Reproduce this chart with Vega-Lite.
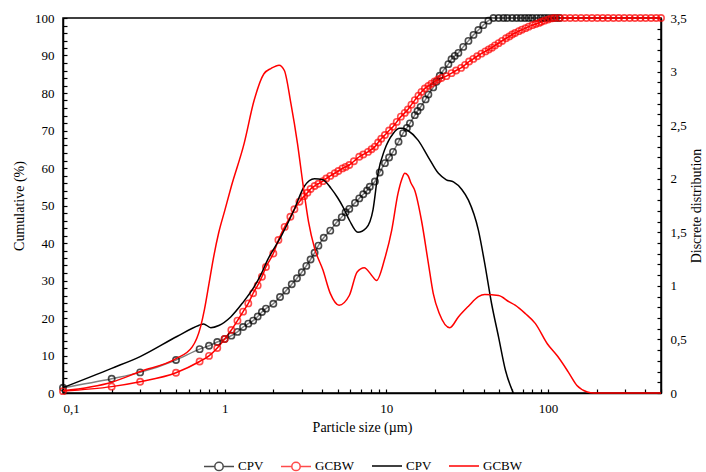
{
  "$schema": "https://vega.github.io/schema/vega-lite/v6.json",
  "width": 598,
  "height": 375,
  "autosize": {"type": "none"},
  "padding": {"left": 63, "top": 18, "right": 45, "bottom": 79},
  "background": "white",
  "config": {
    "font": "Liberation Serif",
    "view": {"stroke": "black", "strokeWidth": 1.5},
    "axis": {
      "labelFont": "Liberation Serif", "titleFont": "Liberation Serif",
      "labelFontSize": 13, "titleFontSize": 14, "titleFontWeight": "normal",
      "labelColor": "black", "titleColor": "black",
      "domainColor": "black", "domainWidth": 1.5,
      "tickColor": "black", "tickWidth": 1.2, "tickSize": -4,
      "grid": false, "labelOverlap": false, "labelPadding": 13
    },
    "legend": {
      "labelFont": "Liberation Serif", "labelFontSize": 13, "labelColor": "black",
      "orient": "none", "direction": "horizontal", "symbolStrokeWidth": 1.5,
      "labelOffset": 3, "columnPadding": 14, "padding": 0
    }
  },
  "datasets": {
    "cum": [
      {"series":"CPV","size":0.1,"value":1.4},{"series":"CPV","size":0.2,"value":3.8},{"series":"CPV","size":0.3,"value":5.5},{"series":"CPV","size":0.5,"value":8.8},{"series":"CPV","size":0.7,"value":11.7},{"series":"CPV","size":0.8,"value":12.6},{"series":"CPV","size":0.9,"value":13.6},{"series":"CPV","size":1,"value":14.4},{"series":"CPV","size":1.1,"value":15.3},{"series":"CPV","size":1.2,"value":16.3},{"series":"CPV","size":1.3,"value":17.6},{"series":"CPV","size":1.4,"value":18.5},{"series":"CPV","size":1.5,"value":19.3},{"series":"CPV","size":1.6,"value":20.4},{"series":"CPV","size":1.7,"value":21.6},{"series":"CPV","size":1.8,"value":22.5},{"series":"CPV","size":2,"value":23.8},{"series":"CPV","size":2.2,"value":25.6},{"series":"CPV","size":2.4,"value":27.3},{"series":"CPV","size":2.6,"value":29},{"series":"CPV","size":2.8,"value":30.6},{"series":"CPV","size":3,"value":32.2},{"series":"CPV","size":3.2,"value":33.9},{"series":"CPV","size":3.4,"value":35.6},{"series":"CPV","size":3.6,"value":37.4},{"series":"CPV","size":3.8,"value":39.3},{"series":"CPV","size":4.1,"value":41.4},{"series":"CPV","size":4.5,"value":43.3},{"series":"CPV","size":4.9,"value":45.4},{"series":"CPV","size":5.3,"value":46.9},{"series":"CPV","size":5.6,"value":48.2},{"series":"CPV","size":5.9,"value":49.1},{"series":"CPV","size":6.4,"value":50.7},{"series":"CPV","size":6.8,"value":51.9},{"series":"CPV","size":7.2,"value":53},{"series":"CPV","size":7.6,"value":54},{"series":"CPV","size":7.9,"value":55},{"series":"CPV","size":8.5,"value":56.4},{"series":"CPV","size":9.1,"value":58.8},{"series":"CPV","size":9.8,"value":61.3},{"series":"CPV","size":10.4,"value":62.8},{"series":"CPV","size":11,"value":64.3},{"series":"CPV","size":11.9,"value":67},{"series":"CPV","size":12.7,"value":69.3},{"series":"CPV","size":13.4,"value":70.7},{"series":"CPV","size":14,"value":71.9},{"series":"CPV","size":15,"value":74.1},{"series":"CPV","size":15.6,"value":75.2},{"series":"CPV","size":16.3,"value":76.3},{"series":"CPV","size":17.5,"value":78.3},{"series":"CPV","size":18.2,"value":79.6},{"series":"CPV","size":19.5,"value":81.5},{"series":"CPV","size":20.4,"value":83},{"series":"CPV","size":21.4,"value":84.6},{"series":"CPV","size":22.5,"value":86},{"series":"CPV","size":24.2,"value":87.7},{"series":"CPV","size":25.3,"value":89},{"series":"CPV","size":26.5,"value":89.9},{"series":"CPV","size":27.9,"value":90.7},{"series":"CPV","size":29.9,"value":92.3},{"series":"CPV","size":32.2,"value":93.9},{"series":"CPV","size":34.6,"value":95.5},{"series":"CPV","size":37.1,"value":96.8},{"series":"CPV","size":39.8,"value":98.1},{"series":"CPV","size":42.8,"value":99.3},{"series":"CPV","size":46,"value":100},{"series":"CPV","size":49.5,"value":100},{"series":"CPV","size":53,"value":100},{"series":"CPV","size":56,"value":100},{"series":"CPV","size":60,"value":100},{"series":"CPV","size":64,"value":100},{"series":"CPV","size":68,"value":100},{"series":"CPV","size":72,"value":100},{"series":"CPV","size":76,"value":100},{"series":"CPV","size":80,"value":100},{"series":"CPV","size":85,"value":100},{"series":"CPV","size":90,"value":100},{"series":"CPV","size":95,"value":100},{"series":"CPV","size":100,"value":100},{"series":"CPV","size":106,"value":100},{"series":"CPV","size":112,"value":100},{"series":"CPV","size":118,"value":100},
      {"series":"GCBW","size":0.1,"value":0.5},{"series":"GCBW","size":0.2,"value":1.7},{"series":"GCBW","size":0.3,"value":3},{"series":"GCBW","size":0.5,"value":5.4},{"series":"GCBW","size":0.7,"value":8.4},{"series":"GCBW","size":0.8,"value":9.9},{"series":"GCBW","size":0.9,"value":12},{"series":"GCBW","size":1,"value":14.4},{"series":"GCBW","size":1.1,"value":16.8},{"series":"GCBW","size":1.2,"value":19.3},{"series":"GCBW","size":1.3,"value":21.7},{"series":"GCBW","size":1.4,"value":23.9},{"series":"GCBW","size":1.5,"value":26.6},{"series":"GCBW","size":1.6,"value":28.7},{"series":"GCBW","size":1.7,"value":31},{"series":"GCBW","size":1.8,"value":33.6},{"series":"GCBW","size":2,"value":37.2},{"series":"GCBW","size":2.15,"value":40.8},{"series":"GCBW","size":2.35,"value":44.3},{"series":"GCBW","size":2.55,"value":47},{"series":"GCBW","size":2.7,"value":49},{"series":"GCBW","size":2.9,"value":51},{"series":"GCBW","size":3.1,"value":52.5},{"series":"GCBW","size":3.25,"value":53.4},{"series":"GCBW","size":3.4,"value":54.4},{"series":"GCBW","size":3.6,"value":55.2},{"series":"GCBW","size":3.8,"value":55.8},{"series":"GCBW","size":4.05,"value":56.5},{"series":"GCBW","size":4.25,"value":57.2},{"series":"GCBW","size":4.5,"value":57.9},{"series":"GCBW","size":4.8,"value":58.6},{"series":"GCBW","size":5.05,"value":59.2},{"series":"GCBW","size":5.35,"value":59.9},{"series":"GCBW","size":5.6,"value":60.3},{"series":"GCBW","size":5.9,"value":60.8},{"series":"GCBW","size":6.3,"value":61.8},{"series":"GCBW","size":6.8,"value":63},{"series":"GCBW","size":7.2,"value":63.6},{"series":"GCBW","size":7.7,"value":64.3},{"series":"GCBW","size":8.1,"value":65},{"series":"GCBW","size":8.5,"value":65.7},{"series":"GCBW","size":8.9,"value":66.8},{"series":"GCBW","size":9.3,"value":67.8},{"series":"GCBW","size":9.8,"value":68.8},{"series":"GCBW","size":10.4,"value":70},{"series":"GCBW","size":11,"value":71},{"series":"GCBW","size":11.6,"value":72.3},{"series":"GCBW","size":12.3,"value":73.7},{"series":"GCBW","size":13,"value":74.7},{"series":"GCBW","size":13.6,"value":75.6},{"series":"GCBW","size":14.3,"value":76.9},{"series":"GCBW","size":15,"value":78.1},{"series":"GCBW","size":15.8,"value":79.3},{"series":"GCBW","size":16.5,"value":80.3},{"series":"GCBW","size":17.3,"value":81.2},{"series":"GCBW","size":18.2,"value":81.9},{"series":"GCBW","size":19,"value":82.5},{"series":"GCBW","size":19.9,"value":83.1},{"series":"GCBW","size":20.9,"value":83.6},{"series":"GCBW","size":21.9,"value":84},{"series":"GCBW","size":23.5,"value":84.5},{"series":"GCBW","size":25.3,"value":85.3},{"series":"GCBW","size":27,"value":86},{"series":"GCBW","size":29,"value":86.7},{"series":"GCBW","size":30.7,"value":87.5},{"series":"GCBW","size":32.5,"value":88.4},{"series":"GCBW","size":34.5,"value":89.1},{"series":"GCBW","size":36.5,"value":89.8},{"series":"GCBW","size":38.7,"value":90.5},{"series":"GCBW","size":41,"value":91.1},{"series":"GCBW","size":43,"value":91.6},{"series":"GCBW","size":45,"value":92.1},{"series":"GCBW","size":47,"value":92.7},{"series":"GCBW","size":49.5,"value":93.3},{"series":"GCBW","size":52,"value":93.9},{"series":"GCBW","size":55,"value":94.6},{"series":"GCBW","size":57.6,"value":95.1},{"series":"GCBW","size":60,"value":95.6},{"series":"GCBW","size":62.6,"value":96},{"series":"GCBW","size":66,"value":96.5},{"series":"GCBW","size":69,"value":96.9},{"series":"GCBW","size":72.6,"value":97.3},{"series":"GCBW","size":76,"value":97.7},{"series":"GCBW","size":80,"value":98.1},{"series":"GCBW","size":84,"value":98.4},{"series":"GCBW","size":88,"value":98.7},{"series":"GCBW","size":91,"value":99},{"series":"GCBW","size":95,"value":99.3},{"series":"GCBW","size":100,"value":99.6},{"series":"GCBW","size":105,"value":99.9},{"series":"GCBW","size":110,"value":100},{"series":"GCBW","size":118,"value":100},{"series":"GCBW","size":127,"value":100},{"series":"GCBW","size":137,"value":100},{"series":"GCBW","size":148,"value":100},{"series":"GCBW","size":160,"value":100},{"series":"GCBW","size":173,"value":100},{"series":"GCBW","size":187,"value":100},{"series":"GCBW","size":202,"value":100},{"series":"GCBW","size":218,"value":100},{"series":"GCBW","size":235,"value":100},{"series":"GCBW","size":254,"value":100},{"series":"GCBW","size":274,"value":100},{"series":"GCBW","size":296,"value":100},{"series":"GCBW","size":320,"value":100},{"series":"GCBW","size":345,"value":100},{"series":"GCBW","size":373,"value":100},{"series":"GCBW","size":402,"value":100},{"series":"GCBW","size":434,"value":100},{"series":"GCBW","size":467,"value":100},{"series":"GCBW","size":500,"value":100}
    ],
    "disc": [
      {"series":"CPV","size":0.1,"value":0.05},{"series":"CPV","size":0.2,"value":0.23},{"series":"CPV","size":0.3,"value":0.34},{"series":"CPV","size":0.51,"value":0.53},{"series":"CPV","size":0.69,"value":0.63},{"series":"CPV","size":0.74,"value":0.645},{"series":"CPV","size":0.82,"value":0.61},{"series":"CPV","size":0.92,"value":0.63},{"series":"CPV","size":1.09,"value":0.71},{"series":"CPV","size":1.29,"value":0.84},{"series":"CPV","size":1.52,"value":0.99},{"series":"CPV","size":1.67,"value":1.1},{"series":"CPV","size":1.84,"value":1.24},{"series":"CPV","size":2.23,"value":1.46},{"series":"CPV","size":2.69,"value":1.71},{"series":"CPV","size":3.11,"value":1.93},{"series":"CPV","size":3.59,"value":2.0},{"series":"CPV","size":4.05,"value":1.99},{"series":"CPV","size":4.55,"value":1.91},{"series":"CPV","size":5.01,"value":1.82},{"series":"CPV","size":5.38,"value":1.74},{"series":"CPV","size":5.92,"value":1.61},{"series":"CPV","size":6.67,"value":1.5},{"series":"CPV","size":7.51,"value":1.54},{"series":"CPV","size":8.27,"value":1.71},{"series":"CPV","size":8.88,"value":2.05},{"series":"CPV","size":9.76,"value":2.27},{"series":"CPV","size":11,"value":2.42},{"series":"CPV","size":12.1,"value":2.47},{"series":"CPV","size":12.7,"value":2.47},{"series":"CPV","size":13.6,"value":2.45},{"series":"CPV","size":15.7,"value":2.36},{"series":"CPV","size":18.2,"value":2.2},{"series":"CPV","size":21,"value":2.05},{"series":"CPV","size":23.5,"value":1.99},{"series":"CPV","size":26,"value":1.97},{"series":"CPV","size":29.3,"value":1.9},{"series":"CPV","size":32.2,"value":1.8},{"series":"CPV","size":37.1,"value":1.52},{"series":"CPV","size":40.6,"value":1.21},{"series":"CPV","size":44.7,"value":0.84},{"series":"CPV","size":49.5,"value":0.52},{"series":"CPV","size":54.6,"value":0.21},{"series":"CPV","size":61,"value":0},
      {"series":"GCBW","size":0.1,"value":0.02},{"series":"GCBW","size":0.2,"value":0.1},{"series":"GCBW","size":0.3,"value":0.2},{"series":"GCBW","size":0.5,"value":0.32},{"series":"GCBW","size":0.63,"value":0.43},{"series":"GCBW","size":0.71,"value":0.62},{"series":"GCBW","size":0.75,"value":0.78},{"series":"GCBW","size":0.8,"value":1.02},{"series":"GCBW","size":0.85,"value":1.25},{"series":"GCBW","size":0.92,"value":1.5},{"series":"GCBW","size":1,"value":1.7},{"series":"GCBW","size":1.1,"value":1.93},{"series":"GCBW","size":1.32,"value":2.33},{"series":"GCBW","size":1.52,"value":2.73},{"series":"GCBW","size":1.75,"value":2.98},{"series":"GCBW","size":1.94,"value":3.03},{"series":"GCBW","size":2.17,"value":3.06},{"series":"GCBW","size":2.34,"value":3.01},{"series":"GCBW","size":2.57,"value":2.7},{"series":"GCBW","size":2.82,"value":2.33},{"series":"GCBW","size":3.05,"value":1.95},{"series":"GCBW","size":3.3,"value":1.6},{"series":"GCBW","size":3.6,"value":1.35},{"series":"GCBW","size":4.05,"value":1.15},{"series":"GCBW","size":4.5,"value":0.93},{"series":"GCBW","size":5.1,"value":0.82},{"series":"GCBW","size":5.9,"value":0.91},{"series":"GCBW","size":6.6,"value":1.13},{"series":"GCBW","size":7.3,"value":1.17},{"series":"GCBW","size":8.1,"value":1.1},{"series":"GCBW","size":8.7,"value":1.05},{"series":"GCBW","size":9.8,"value":1.26},{"series":"GCBW","size":10.8,"value":1.52},{"series":"GCBW","size":11.8,"value":1.86},{"series":"GCBW","size":12.5,"value":2.0},{"series":"GCBW","size":13,"value":2.05},{"series":"GCBW","size":13.6,"value":2.03},{"series":"GCBW","size":14.2,"value":1.96},{"series":"GCBW","size":15,"value":1.89},{"series":"GCBW","size":16.5,"value":1.61},{"series":"GCBW","size":18.2,"value":1.21},{"series":"GCBW","size":19.5,"value":0.93},{"series":"GCBW","size":21.3,"value":0.74},{"series":"GCBW","size":24.7,"value":0.61},{"series":"GCBW","size":27.9,"value":0.71},{"series":"GCBW","size":32.2,"value":0.81},{"series":"GCBW","size":37.1,"value":0.9},{"series":"GCBW","size":40.6,"value":0.92},{"series":"GCBW","size":49.5,"value":0.91},{"series":"GCBW","size":57.6,"value":0.85},{"series":"GCBW","size":62.6,"value":0.82},{"series":"GCBW","size":72.6,"value":0.74},{"series":"GCBW","size":83.4,"value":0.65},{"series":"GCBW","size":99,"value":0.46},{"series":"GCBW","size":115,"value":0.34},{"series":"GCBW","size":133,"value":0.2},{"series":"GCBW","size":151,"value":0.07},{"series":"GCBW","size":175,"value":0.01},{"series":"GCBW","size":192,"value":0},{"series":"GCBW","size":500,"value":0}
    ]
  },
  "encoding": {
    "x": {
      "field": "size", "type": "quantitative",
      "scale": {"type": "log", "domain": [0.1, 500]},
      "axis": {
        "title": "Particle size (µm)", "titlePadding": 5,
        "values": [0.1,0.2,0.3,0.4,0.5,0.6,0.7,0.8,0.9,1,2,3,4,5,6,7,8,9,10,20,30,40,50,60,70,80,90,100,200,300,400,500],
        "labelExpr": "datum.value == 0.1 ? '0,1' : datum.value == 1 ? '1' : datum.value == 10 ? '10' : datum.value == 100 ? '100' : ''"
      }
    }
  },
  "layer": [
    {
      "data": {"name": "cum"},
      "encoding": {
        "y": {
          "field": "value", "type": "quantitative",
          "scale": {"domain": [0, 100]},
          "axis": {
            "orient": "left", "title": "Cumulative (%)", "titlePadding": 8,
            "values": [0,2,4,6,8,10,12,14,16,18,20,22,24,26,28,30,32,34,36,38,40,42,44,46,48,50,52,54,56,58,60,62,64,66,68,70,72,74,76,78,80,82,84,86,88,90,92,94,96,98,100],
            "labelExpr": "datum.value % 10 == 0 ? toString(datum.value) : ''"
          }
        }
      },
      "layer": [
        {
          "mark": {"type": "line", "strokeWidth": 1.5, "interpolate": "monotone"},
          "encoding": {
            "detail": {"field": "series"},
            "color": {"condition": {"test": "datum.series === 'CPV'", "value": "#7f7f7f"}, "value": "#ff0000"}
          }
        },
        {
          "mark": {"type": "point", "shape": "circle", "filled": false, "size": 40, "strokeWidth": 1.6},
          "encoding": {
            "color": {
              "field": "series", "type": "nominal",
              "scale": {"range": ["#000000", "#ff0000"]},
              "legend": {
                "title": null, "orient": "none", "legendX": 140, "legendY": 432,
                "symbolType": "M-1,0L-0.28,0M0.28,0L1,0M-0.28,0A0.28,0.28,0,1,1,0.28,0A0.28,0.28,0,1,1,-0.28,0",
                "symbolSize": 900
              }
            }
          }
        }
      ]
    },
    {
      "data": {"name": "disc"},
      "mark": {"type": "line", "strokeWidth": 1.5, "interpolate": "monotone"},
      "encoding": {
        "y": {
          "field": "value", "type": "quantitative",
          "scale": {"domain": [0, 3.5]},
          "axis": {
            "orient": "right", "title": "Discrete distribution", "titlePadding": 3, "titleAngle": -90, "titleBaseline": "top",
            "values": [0,0.1,0.2,0.3,0.4,0.5,0.6,0.7,0.8,0.9,1,1.1,1.2,1.3,1.4,1.5,1.6,1.7,1.8,1.9,2,2.1,2.2,2.3,2.4,2.5,2.6,2.7,2.8,2.9,3,3.1,3.2,3.3,3.4,3.5],
            "labelExpr": "abs(datum.value*2 - round(datum.value*2)) < 0.001 ? replace(format(datum.value, '.1~f'), '.', ',') : ''"
          }
        },
        "stroke": {
          "field": "series", "type": "nominal",
          "scale": {"range": ["#000000", "#ff0000"]},
          "legend": {"title": null, "orient": "none", "legendX": 308, "legendY": 432, "symbolType": "stroke", "symbolSize": 900}
        }
      }
    }
  ],
  "resolve": {"scale": {"y": "independent"}}
}
